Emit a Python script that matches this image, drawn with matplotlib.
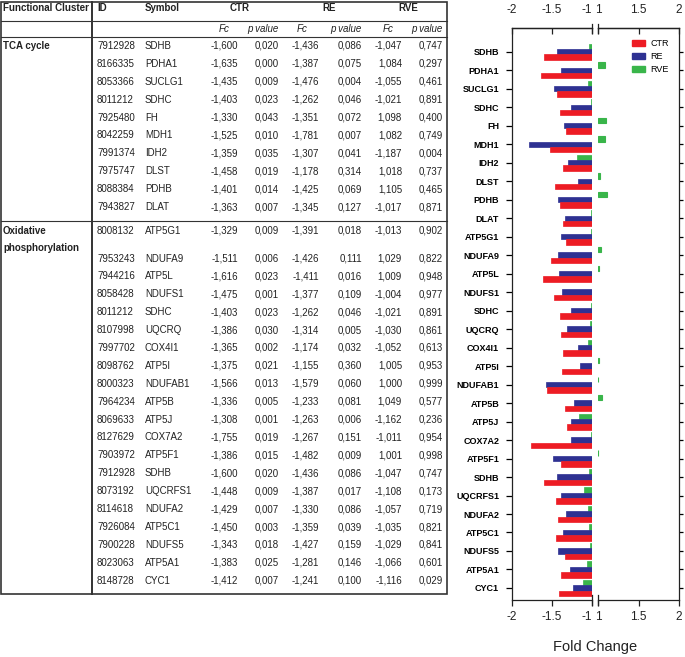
import numpy as np
import matplotlib.pyplot as plt
from matplotlib.patches import Patch, Rectangle

plt.rcParams['font.family'] = ['Liberation Sans', 'DejaVu Sans']
plt.rcParams['axes.unicode_minus'] = False

# ---- data ----
clusters = ['TCA cycle', 'Oxidative\nphosphorylation']
cluster_sizes = [10, 20]

ids = ['7912928', '8166335', '8053366', '8011212', '7925480', '8042259', '7991374',
       '7975747', '8088384', '7943827',
       '8008132', '7953243', '7944216', '8058428', '8011212', '8107998', '7997702',
       '8098762', '8000323', '7964234', '8069633', '8127629', '7903972', '7912928',
       '8073192', '8114618', '7926084', '7900228', '8023063', '8148728']
symbols = ['SDHB', 'PDHA1', 'SUCLG1', 'SDHC', 'FH', 'MDH1', 'IDH2', 'DLST', 'PDHB', 'DLAT',
           'ATP5G1', 'NDUFA9', 'ATP5L', 'NDUFS1', 'SDHC', 'UQCRQ', 'COX4I1', 'ATP5I',
           'NDUFAB1', 'ATP5B', 'ATP5J', 'COX7A2', 'ATP5F1', 'SDHB', 'UQCRFS1', 'NDUFA2',
           'ATP5C1', 'NDUFS5', 'ATP5A1', 'CYC1']
ctr_fc = [-1.600, -1.635, -1.435, -1.403, -1.330, -1.525, -1.359, -1.458, -1.401, -1.363,
          -1.329, -1.511, -1.616, -1.475, -1.403, -1.386, -1.365, -1.375, -1.566, -1.336,
          -1.308, -1.755, -1.386, -1.600, -1.448, -1.429, -1.450, -1.343, -1.383, -1.412]
ctr_p = [0.020, 0.000, 0.009, 0.023, 0.043, 0.010, 0.035, 0.019, 0.014, 0.007,
         0.009, 0.006, 0.023, 0.001, 0.023, 0.030, 0.002, 0.021, 0.013, 0.005,
         0.001, 0.019, 0.015, 0.020, 0.009, 0.007, 0.003, 0.018, 0.025, 0.007]
re_fc = [-1.436, -1.387, -1.476, -1.262, -1.351, -1.781, -1.307, -1.178, -1.425, -1.345,
         -1.391, -1.426, -1.411, -1.377, -1.262, -1.314, -1.174, -1.155, -1.579, -1.233,
         -1.263, -1.267, -1.482, -1.436, -1.387, -1.330, -1.359, -1.427, -1.281, -1.241]
re_p = [0.086, 0.075, 0.004, 0.046, 0.072, 0.007, 0.041, 0.314, 0.069, 0.127,
        0.018, 0.111, 0.016, 0.109, 0.046, 0.005, 0.032, 0.360, 0.060, 0.081,
        0.006, 0.151, 0.009, 0.086, 0.017, 0.086, 0.039, 0.159, 0.146, 0.100]
rve_fc = [-1.047, 1.084, -1.055, -1.021, 1.098, 1.082, -1.187, 1.018, 1.105, -1.017,
          -1.013, 1.029, 1.009, -1.004, -1.021, -1.030, -1.052, 1.005, 1.000, 1.049,
          -1.162, -1.011, 1.001, -1.047, -1.108, -1.057, -1.035, -1.029, -1.066, -1.116]
rve_p = [0.747, 0.297, 0.461, 0.891, 0.400, 0.749, 0.004, 0.737, 0.465, 0.871,
         0.902, 0.822, 0.948, 0.977, 0.891, 0.861, 0.613, 0.953, 0.999, 0.577,
         0.236, 0.954, 0.998, 0.747, 0.173, 0.719, 0.821, 0.841, 0.601, 0.029]

groups = ['CTR', 'RE', 'RVE']
colors = {'CTR': '#ED1C24', 'RE': '#2E3192', 'RVE': '#39B54A'}

left_ticks = [-2, -1.5, -1]
left_labels = ['-2', '-1.5', '-1']
right_ticks = [1, 1.5, 2]
right_labels = ['1', '1.5', '2']


def fmt(v):
    return f'{v:.3f}'.replace('.', ',')


fig = plt.figure(figsize=(6.85, 6.57), dpi=100)

# ---- table on the left (drawn in pixel coordinates) ----
tab = fig.add_axes([0, 0, 1, 1])
tab.set_xlim(0, 685)
tab.set_ylim(657, 0)
tab.axis('off')

tc = '#222222'
fs = 7
tab.text(3, 8, 'Functional Cluster', fontsize=fs, fontweight='bold', va='center', color=tc)
tab.text(97, 8, 'ID', fontsize=fs, fontweight='bold', va='center', color=tc)
tab.text(145, 8, 'Symbol', fontsize=fs, fontweight='bold', va='center', color=tc)
for g, xc in zip(groups, [240, 329, 408]):
    tab.text(xc, 8, g, fontsize=fs, fontweight='bold', va='center', ha='center', color=tc)

fc_right = [238, 319, 402]
p_right = [279, 362, 443]
fc_center = [224, 302, 388]
for xc, xr in zip(fc_center, p_right):
    tab.text(xc, 29, 'Fc', fontsize=fs, style='italic', va='center', ha='center', color=tc)
    tab.text(xr, 29, 'p value', fontsize=fs, style='italic', va='center', ha='right', color=tc)

# row positions
row_h = 17.9
row_y = []
cluster_y = []
start = 46
for ci, n in enumerate(cluster_sizes):
    cluster_y.append(start)
    extra = 28 - row_h if ci == 1 else 0
    for k in range(n):
        row_y.append(start + k * row_h + (extra if k > 0 else 0))
    start = row_y[-1] + row_h + 5.5

for name, cy in zip(clusters, cluster_y):
    for j, line in enumerate(name.split('\n')):
        tab.text(3, cy + j * 17.3, line, fontsize=fs, fontweight='bold', va='center', color=tc)

for i, ry in enumerate(row_y):
    tab.text(97, ry, ids[i], fontsize=fs, va='center', color=tc)
    tab.text(145, ry, symbols[i], fontsize=fs, va='center', color=tc)
    for fcs, ps, xr_fc, xr_p in zip([ctr_fc, re_fc, rve_fc], [ctr_p, re_p, rve_p],
                                    fc_right, p_right):
        tab.text(xr_fc, ry, fmt(fcs[i]), fontsize=fs, va='center', ha='right', color=tc)
        tab.text(xr_p, ry, fmt(ps[i]), fontsize=fs, va='center', ha='right', color=tc)

lc = '#333333'
tab.add_patch(Rectangle((1.5, 1.5), 446, 592.5, fill=False, lw=1.2, ec=lc))
tab.plot([92, 92], [1.5, 594], color=lc, lw=1.4)
for hy in [20.7, 37, 220.5]:
    tab.plot([1.5, 447.5], [hy, hy], color=lc, lw=0.8)

# ---- broken-axis bar chart on the right ----
y = np.arange(len(symbols))
h = 0.29
axL = fig.add_axes([0.7470, 0.0868, 0.1177, 0.8701])
axR = fig.add_axes([0.8734, 0.0868, 0.1178, 0.8701])

series = [('RVE', np.array(rve_fc), -h), ('RE', np.array(re_fc), 0.0), ('CTR', np.array(ctr_fc), h)]
for name, vals, off in series:
    neg = vals < 0
    pos = vals > 0
    axL.barh(y[neg] + off, vals[neg] + 1, left=-1, height=h, color=colors[name],
             edgecolor=colors[name], linewidth=0.5)
    axR.barh(y[pos] + off, vals[pos] - 1, left=1, height=h, color=colors[name],
             edgecolor=colors[name], linewidth=0.8)

for ax, lim, ticks, labels in [(axL, (-2, -1), left_ticks, left_labels),
                               (axR, (1, 2), right_ticks, right_labels)]:
    ax.set_xlim(*lim)
    ax.set_ylim(len(symbols) - 1 + 0.65, -1.27)
    ax.set_xticks(ticks)
    ax.set_xticklabels(labels)
    ax.tick_params(axis='x', direction='out', length=4, width=0.9, labelsize=8.5, pad=4,
                   colors='#222222')
    sec = ax.secondary_xaxis('top')
    sec.set_xticks(ticks)
    sec.set_xticklabels(labels)
    sec.tick_params(direction='in', length=4, width=0.9, labelsize=8.5, pad=9,
                    colors='#222222')
    sec.spines['top'].set_linewidth(0.9)
    for s in ax.spines.values():
        s.set_linewidth(0.9)
        s.set_color('#222222')
    ax.set_yticks(y)
    # keep the "-1" and "1" labels from running into each other at the break
    for lab in ax.get_xticklabels() + sec.get_xticklabels():
        if lab.get_text() == '-1':
            lab.set_horizontalalignment('right')
            lab.set_x(-0.985)

axL.spines['right'].set_visible(False)
axR.spines['left'].set_visible(False)
axL.set_yticklabels(symbols, fontsize=6.5, fontweight='bold')
axL.tick_params(axis='y', direction='out', length=4, width=0.9, pad=5)
axR.yaxis.tick_right()
axR.tick_params(axis='y', direction='out', length=3, width=0.9, labelright=False)

# break marks at -1 / 1
for ax, xb in [(axL, -1), (axR, 1)]:
    tr = ax.get_xaxis_transform()
    for yb in (0, 1):
        ax.plot([xb, xb], [yb - 0.008, yb + 0.008], color='#222222', lw=0.9,
                transform=tr, clip_on=False)

fig.text(594.7 / 685, 1 - 647 / 657, 'Fold Change', fontsize=10.5, ha='center',
         va='center', color='#222222')

handles = [Patch(facecolor=colors[g], edgecolor=colors[g]) for g in groups]
axR.legend(handles, groups, loc='upper left', bbox_to_anchor=(632 / 685, 1 - 39 / 657),
           bbox_transform=fig.transFigure, frameon=False, fontsize=6.5,
           handlelength=1.45, handleheight=0.7, handletextpad=0.6, labelspacing=0.45,
           borderpad=0, borderaxespad=0)

fig.savefig('out.png', dpi=100)
